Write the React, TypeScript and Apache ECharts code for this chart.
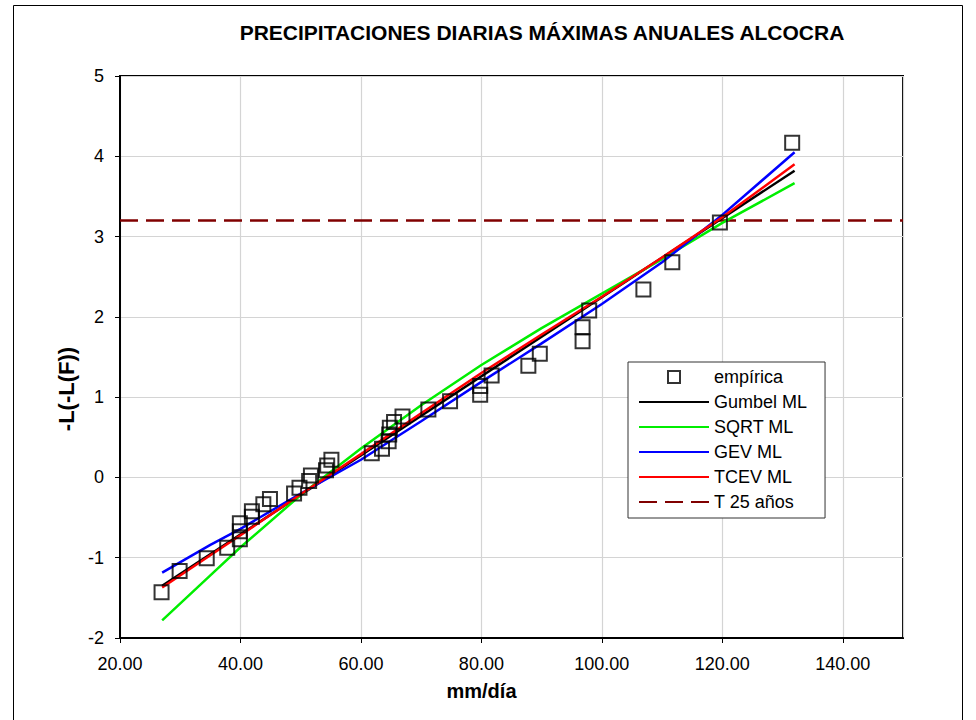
import React, { useEffect, useRef } from "react";
import * as echarts from "echarts";

const TITLE = "PRECIPITACIONES DIARIAS MÁXIMAS ANUALES ALCOCRA";
const X_NAME = "mm/día";
const Y_NAME = "-L(-L(F))";

// empirical points
const xEmp = [26.9, 29.9, 34.4, 37.8, 39.9, 39.9, 39.9, 41.9, 41.9, 43.8, 44.9, 48.9, 49.8, 51.4, 51.7, 54.2, 54.4, 55.1, 61.8, 63.5, 64.6, 64.7, 64.8, 65.5, 66.9, 71.2, 74.8, 79.8, 79.8, 81.7, 87.8, 89.7, 96.8, 96.8, 97.9, 106.9, 111.7, 119.6, 131.6];
const yEmp = [-1.43, -1.165, -1.007, -0.875, -0.77, -0.67, -0.57, -0.49, -0.42, -0.335, -0.27, -0.2, -0.13, -0.045, 0.025, 0.09, 0.15, 0.22, 0.3, 0.357, 0.45, 0.535, 0.62, 0.69, 0.76, 0.846, 0.95, 1.03, 1.14, 1.27, 1.39, 1.54, 1.695, 1.87, 2.08, 2.34, 2.68, 3.175, 4.17];

// fitted curves
const xGumbel = [27, 132];
const yGumbel = [-1.35, 3.82];

const xFit = [27, 35, 40, 50, 60, 70, 80, 90, 100, 110, 120, 132];
const ySqrt = [-1.78, -1.22, -0.87, -0.22, 0.36, 0.9, 1.4, 1.86, 2.29, 2.72, 3.17, 3.665];
const yGev = [-1.185, -0.84, -0.64, -0.2, 0.22, 0.7, 1.19, 1.67, 2.16, 2.68, 3.27, 4.05];
const yTcev = [-1.37, -0.97, -0.72, -0.21, 0.29, 0.8, 1.3, 1.78, 2.25, 2.74, 3.24, 3.9];

const xT25 = [20, 150];
const yT25 = [3.2, 3.2];

const FONT = "'Liberation Sans', Arial, sans-serif";

const zip = (xs: number[], ys: number[]) => xs.map((x, i) => [x, ys[i]]);

export default function App() {
  const ref = useRef<HTMLDivElement>(null);
  useEffect(() => {
    if (!ref.current) return;
    const chart = echarts.init(ref.current, null, { renderer: "svg" });
    const lineSeries = (name: string, xs: number[], ys: number[], color: string, extra: any = {}) => ({
      name,
      type: "line",
      data: zip(xs, ys),
      showSymbol: false,
      symbol: "none",
      smooth: false,
      lineStyle: { color, width: 2.5, ...(extra.lineStyle || {}) },
      itemStyle: { color },
      z: extra.z ?? 3,
    });
    const lineLegend = (name: string) => ({ name, itemStyle: { opacity: 0 } });
    chart.setOption({
      animation: false,
      backgroundColor: "#fff",
      textStyle: { fontFamily: FONT },
      title: {
        text: TITLE,
        left: 537,
        top: 17,
        textAlign: "center",
        textStyle: { fontFamily: FONT, fontSize: 21, fontWeight: "bold", color: "#000" },
      },
      graphic: [
        {
          type: "rect",
          shape: { x: 13.5, y: 5.5, width: 949, height: 740 },
          style: { fill: "none", stroke: "#000", lineWidth: 1 },
          silent: true,
          z: -1,
        },
      ],
      grid: {
        left: 120,
        top: 76,
        right: 73,
        bottom: 82,
        show: true,
        borderColor: "#000",
        borderWidth: 2,
        containLabel: false,
      },
      legend: {
        orient: "vertical",
        left: 628,
        top: 362,
        itemWidth: 70,
        itemHeight: 12,
        itemGap: 5,
        padding: [5, 18, 6, 10],
        backgroundColor: "#fff",
        borderColor: "#333",
        borderWidth: 1,
        borderRadius: 0,
        selectedMode: false,
        symbolKeepAspect: true,
        textStyle: { fontFamily: FONT, fontSize: 18, color: "#000", lineHeight: 20 },
        data: [
          { name: "empírica", icon: "path://M0,0L10,0L10,10L0,10Z", symbolKeepAspect: true },
          lineLegend("Gumbel ML"),
          lineLegend("SQRT ML"),
          lineLegend("GEV ML"),
          lineLegend("TCEV ML"),
          lineLegend("T 25 años"),
        ],
      },
      xAxis: {
        type: "value",
        min: 20,
        max: 150,
        interval: 20,
        name: X_NAME,
        nameLocation: "middle",
        nameGap: 43,
        nameTextStyle: { fontFamily: FONT, fontSize: 20, fontWeight: "bold", color: "#000", padding: [0, 60, 0, 0] },
        axisLine: { show: true, onZero: false, lineStyle: { color: "#000", width: 2 } },
        axisTick: { show: true, inside: false, length: 5, lineStyle: { color: "#000", width: 1 } },
        axisLabel: {
          fontFamily: FONT,
          fontSize: 18,
          color: "#000",
          margin: 17,
          showMaxLabel: false,
          formatter: (v: number) => v.toFixed(2),
        },
        splitLine: { show: true, lineStyle: { color: "#d4d4d4", width: 1.2 } },
      },
      yAxis: {
        type: "value",
        min: -2,
        max: 5,
        interval: 1,
        name: Y_NAME,
        nameLocation: "middle",
        nameGap: 40,
        nameRotate: 90,
        nameTextStyle: { fontFamily: FONT, fontSize: 22, fontWeight: "bold", color: "#000", padding: [0, 64, 0, 0] },
        axisLine: { show: true, onZero: false, lineStyle: { color: "#000", width: 2 } },
        axisTick: { show: true, inside: false, length: 5, lineStyle: { color: "#000", width: 1 } },
        axisLabel: { fontFamily: FONT, fontSize: 18, color: "#000", margin: 16 },
        splitLine: { show: true, lineStyle: { color: "#d4d4d4", width: 1.2 } },
      },
      series: [
        lineSeries("T 25 años", xT25, yT25, "#800000", { lineStyle: { type: [18, 8], width: 2.5 }, z: 2 }),
        lineSeries("Gumbel ML", xGumbel, yGumbel, "#000000"),
        lineSeries("SQRT ML", xFit, ySqrt, "#00ee00"),
        lineSeries("GEV ML", xFit, yGev, "#0000ff"),
        lineSeries("TCEV ML", xFit, yTcev, "#ff0000"),
        {
          name: "empírica",
          type: "scatter",
          data: zip(xEmp, yEmp),
          symbol: "rect",
          symbolSize: 14,
          itemStyle: { color: "rgba(255,255,255,0)", borderColor: "#000", borderWidth: 2 },
          z: 5,
        },
      ],
    });
    return () => chart.dispose();
  }, []);
  return <div ref={ref} style={{ width: 976, height: 720, position: "absolute", left: 0, top: 0 }} />;
}
